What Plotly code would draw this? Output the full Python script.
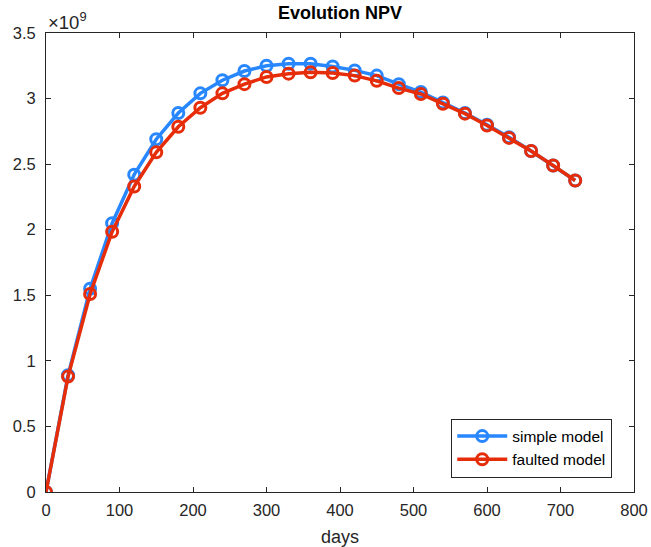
import plotly.graph_objects as go

days = [0, 30, 60, 90, 120, 150, 180, 210, 240, 270, 300, 330, 360, 390, 420, 450, 480, 510, 540, 570, 600, 630, 660, 690, 720]
simple_model = [0, 0.89, 1.55, 2.05, 2.42, 2.69, 2.89, 3.04, 3.14, 3.21, 3.25, 3.265, 3.265, 3.245, 3.215, 3.175, 3.11, 3.05, 2.97, 2.89, 2.80, 2.705, 2.60, 2.49, 2.375]
faulted_model = [0, 0.88, 1.51, 1.985, 2.33, 2.59, 2.785, 2.93, 3.04, 3.11, 3.165, 3.19, 3.20, 3.195, 3.175, 3.135, 3.08, 3.035, 2.96, 2.885, 2.795, 2.70, 2.60, 2.49, 2.375]
y_ticks = [0, 0.5, 1, 1.5, 2, 2.5, 3, 3.5]
y_tick_labels = ["0", "0.5", "1", "1.5", "2", "2.5", "3", "3.5"]
x_ticks = [0, 100, 200, 300, 400, 500, 600, 700, 800]

BLUE = "rgb(40,135,255)"
RED = "rgb(230,45,10)"
AX = "#262626"
FONT = "Arial, Liberation Sans"

fig = go.Figure()
fig.add_trace(go.Scatter(x=days, y=simple_model, name="simple model", mode="lines+markers",
                         line=dict(color=BLUE, width=3.5),
                         marker=dict(symbol="circle-open", size=11, color=BLUE, line=dict(width=3, color=BLUE))))
fig.add_trace(go.Scatter(x=days, y=faulted_model, name="faulted model", mode="lines+markers",
                         line=dict(color=RED, width=3.5),
                         marker=dict(symbol="circle-open", size=11, color=RED, line=dict(width=3, color=RED))))

axis_common = dict(showline=True, linecolor=AX, linewidth=1, mirror="ticks", ticks="inside",
                   ticklen=5, tickcolor=AX, tickwidth=1, showgrid=False, zeroline=False, automargin=False,
                   tickfont=dict(family=FONT, size=16.5, color=AX))

fig.update_layout(
    width=651, height=547,
    margin=dict(l=45.5, r=16.5, t=32.5, b=54.5),
    plot_bgcolor="white", paper_bgcolor="white",
    title=dict(text="<b>Evolution NPV</b>", x=0.5, xanchor="center", xref="paper", y=1 - 13/547, yanchor="middle",
               font=dict(family=FONT, size=18, color="black")),
    xaxis=dict(range=[0, 800], tickvals=x_ticks, ticklabelstandoff=3, **axis_common),
    yaxis=dict(range=[0, 3.5], tickvals=y_ticks, ticktext=y_tick_labels, ticklabelstandoff=6, **axis_common),
    showlegend=True,
    legend=dict(x=0.963, y=0.0315, xanchor="right", yanchor="bottom", bgcolor="white",
                bordercolor=AX, borderwidth=1,
                font=dict(family=FONT, size=15.5, color="black"),
                tracegroupgap=0, itemwidth=50),
)
fig.add_annotation(text="days", xref="paper", yref="paper", x=0.5, y=-(538 - 492.5) / 460, xanchor="center",
                   yanchor="middle", showarrow=False, font=dict(family=FONT, size=18, color=AX))
fig.add_annotation(text="×10<sup>9</sup>", xref="paper", yref="paper", x=0, y=1, xanchor="left", yanchor="bottom",
                   showarrow=False, font=dict(family=FONT, size=18.5, color=AX), yshift=-2)

fig.write_html("out.html")
